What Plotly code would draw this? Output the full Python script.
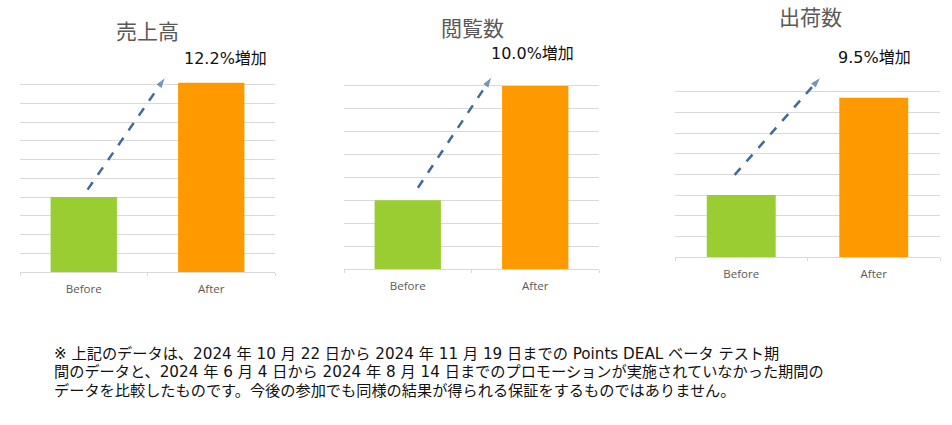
import plotly.graph_objects as go

# データ（画像から読み取った値、目盛り単位）
categories = ["Before", "After"]
titles = ["売上高", "閲覧数", "出荷数"]
before_values = [4.0, 3.0, 3.0]
after_values = [10.1, 8.0, 7.7]
increase_labels = ["12.2%増加", "10.0%増加", "9.5%増加"]
y_max = [11, 9, 9]

note_lines = [
    "※ 上記のデータは、2024 年 10 月 22 日から 2024 年 11 月 19 日までの Points DEAL ベータ テスト期",
    "間のデータと、2024 年 6 月 4 日から 2024 年 8 月 14 日までのプロモーションが実施されていなかった期間の",
    "データを比較したものです。今後の参加でも同様の結果が得られる保証をするものではありません。",
]

W, H = 952, 425
JP = "DejaVu Sans, Noto Sans CJK JP"
GREEN = "#9ACD32"
ORANGE = "#FF9900"
GRID = "#d9d9d9"

# パネルの位置（ピクセル）: 左, 右, 上, 下
panels = [(20, 275, 66, 272), (344, 599, 63, 269), (675, 940, 71, 257)]
title_pos = [(147, 30), (472, 27), (810, 16)]
label_pos = [(225, 59), (532, 53), (874, 57)]
# 矢印（データ座標）
arrow_from = [(0.03, 4.4), (0.08, 3.55), (-0.05, 3.97)]
arrow_to = [(0.64, 10.4), (0.66, 8.4), (0.60, 8.7)]


def px_x(v):
    return v / W


def px_y(v):
    return 1 - v / H


fig = go.Figure()
layout = dict(
    width=W, height=H,
    margin=dict(l=0, r=0, t=0, b=0),
    paper_bgcolor="white", plot_bgcolor="white",
    showlegend=False,
)
annotations = []

for i in range(3):
    n = "" if i == 0 else str(i + 1)
    xa, ya = "x" + n, "y" + n
    l, r, t, b = panels[i]

    fig.add_trace(go.Bar(
        x=[0, 1], y=[before_values[i], after_values[i]],
        marker=dict(color=[GREEN, ORANGE], line=dict(width=0)),
        width=0.52, xaxis=xa, yaxis=ya, hoverinfo="skip",
    ))

    x0, y0 = arrow_from[i]
    x1, y1 = arrow_to[i]
    fig.add_trace(go.Scatter(
        x=[x0, x1], y=[y0, y1], mode="lines+markers",
        line=dict(color="#41699A", width=2.5, dash="dash"),
        marker=dict(symbol=["circle", "arrow"], size=[0, 12],
                    color="#41699A", angleref="previous"),
        xaxis=xa, yaxis=ya, hoverinfo="skip",
    ))

    layout["xaxis" + n] = dict(
        domain=[px_x(l), px_x(r)], anchor=ya,
        range=[-0.5, 1.5], tickvals=[0, 1], ticktext=categories,
        showgrid=False, zeroline=False,
        showline=True, linecolor=GRID, linewidth=1,
        ticks="", ticklabelstandoff=6,
        tickfont=dict(family="Open Sans", size=11.5, color="#595959"),
        minor=dict(tickvals=[-0.5, 0.5, 1.5], ticks="outside",
                   ticklen=3, tickcolor=GRID, showgrid=False),
        fixedrange=True,
    )
    layout["yaxis" + n] = dict(
        domain=[px_y(b), px_y(t)], anchor=xa,
        range=[0, y_max[i]], dtick=1,
        showgrid=True, gridcolor=GRID, gridwidth=1,
        zeroline=False, showticklabels=False, showline=False,
        fixedrange=True,
    )

    annotations.append(dict(
        text=titles[i], x=px_x(title_pos[i][0]), y=px_y(title_pos[i][1]),
        xref="paper", yref="paper", showarrow=False,
        xanchor="center", yanchor="middle",
        font=dict(family="Noto Sans CJK JP", size=21, color="#595959"),
    ))
    annotations.append(dict(
        text=increase_labels[i], x=px_x(label_pos[i][0]), y=px_y(label_pos[i][1]),
        xref="paper", yref="paper", showarrow=False,
        xanchor="center", yanchor="middle",
        font=dict(family=JP, size=16, color="#111111"),
    ))

for k, line in enumerate(note_lines):
    annotations.append(dict(
        text=line, x=px_x(52), y=px_y(354 + k * 18.3),
        xref="paper", yref="paper", showarrow=False,
        xanchor="left", yanchor="middle",
        font=dict(family=JP, size=15.2, color="#111111"),
    ))

layout["annotations"] = annotations
fig.update_layout(**layout)
fig.write_html("out.html", config={"displayModeBar": False},
               post_script="document.body.style.margin='0px';")
